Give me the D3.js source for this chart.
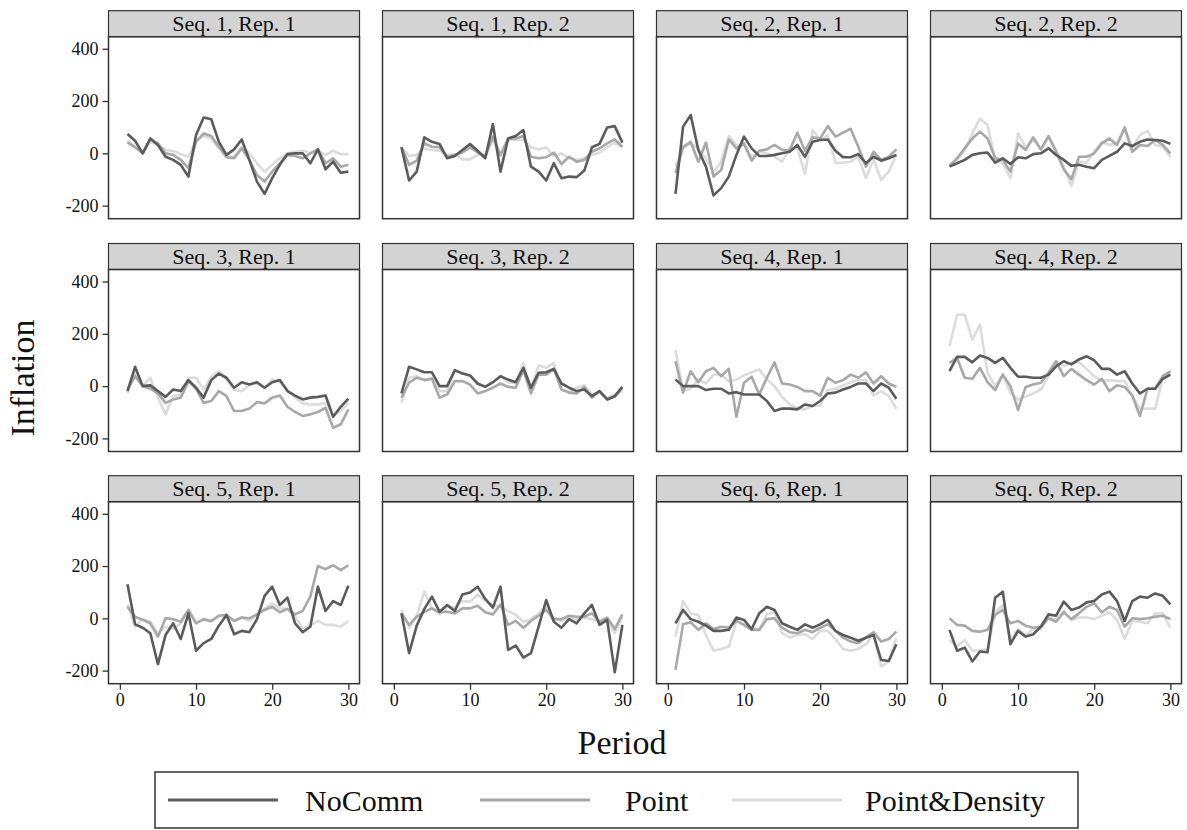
<!DOCTYPE html>
<html>
<head>
<meta charset="utf-8">
<script src="https://cdn.jsdelivr.net/npm/d3@7"></script>
<style>
  body { margin: 0; background: #fff; }
  svg { display: block; font-family: "Liberation Serif", "DejaVu Serif", serif; }
</style>
</head>
<body>
<svg width="1187" height="830"></svg>
<script>
// panel titles, row by row
const panelTitles = [
  'Seq. 1, Rep. 1', 'Seq. 1, Rep. 2', 'Seq. 2, Rep. 1', 'Seq. 2, Rep. 2',
  'Seq. 3, Rep. 1', 'Seq. 3, Rep. 2', 'Seq. 4, Rep. 1', 'Seq. 4, Rep. 2',
  'Seq. 5, Rep. 1', 'Seq. 5, Rep. 2', 'Seq. 6, Rep. 1', 'Seq. 6, Rep. 2'
]
const periods = [1,2,3,4,5,6,7,8,9,10,11,12,13,14,15,16,17,18,19,20,21,22,23,24,25,26,27,28,29,30]
const seriesNames = ['NoComm', 'Point', 'Point&Density']
const yTicks = [-200, 0, 200, 400]
const xTicks = [0, 10, 20, 30]

// inflation per panel
const noComm = [
  [74,48,0,57,32,-13,-25,-44,-89,70,137,130,44,-6,15,53,-25,-108,-155,-95,-44,-3,0,0,-38,15,-61,-32,-74,-70],
  [23,-104,-70,61,44,36,-19,-10,13,36,10,-19,112,-70,57,66,89,-51,-70,-104,-38,-95,-89,-91,-66,23,36,99,104,41],
  [-155,102,146,13,-51,-161,-133,-89,-6,64,19,-10,-10,-6,0,6,32,-13,44,51,53,10,-15,-15,-3,-38,-13,-28,-19,-6],
  [-51,-38,-25,-6,0,3,-36,-19,-41,-15,-19,-3,0,19,-6,-25,-48,-44,-51,-57,-25,-10,6,38,28,44,53,51,48,36],
  [-19,74,0,3,-19,-41,-13,-19,23,-6,-44,23,48,32,-6,15,6,15,-6,15,23,-19,-36,-51,-44,-41,-36,-117,-79,-48],
  [-28,74,64,53,53,0,0,61,48,41,10,-3,15,38,25,15,70,-6,51,53,66,10,-6,-19,-13,-38,-19,-51,-38,-3],
  [25,0,0,0,-15,-10,-10,-28,-23,-32,-32,-32,-57,-95,-86,-86,-89,-70,-76,-57,-28,-25,-13,-3,10,10,-19,10,-6,-48],
  [57,112,112,91,117,108,89,108,70,36,36,32,32,44,76,95,83,102,114,99,66,66,44,57,10,-28,-10,-10,28,44],
  [130,-23,-36,-57,-175,-64,-19,-79,19,-124,-95,-79,-28,13,-61,-48,-53,-3,86,121,51,79,-19,-53,-32,121,28,66,51,125],
  [19,-133,-28,36,83,25,51,28,91,99,121,74,41,121,-121,-104,-150,-133,-32,70,-13,-36,-3,-19,19,51,-25,-6,-206,-25],
  [-19,32,-3,-13,-28,-48,-48,-44,3,-6,-41,19,44,32,-19,-32,-44,-23,-36,-23,-6,-48,-64,-74,-86,-74,-64,-159,-163,-99],
  [-44,-124,-112,-165,-127,-130,79,102,-99,-48,-70,-61,-32,15,10,64,32,41,61,66,91,102,66,-10,66,83,79,95,86,53]
]
const point = [
  [42,23,0,53,38,0,-6,-25,-57,44,76,66,25,-15,-19,19,-25,-83,-108,-70,-38,-6,-10,-19,0,15,-38,-19,-51,-44],
  [23,-44,-28,38,25,23,-13,-6,3,23,3,-13,64,-6,57,57,66,-13,-19,-15,3,-41,-13,-32,-25,6,19,38,53,25],
  [-76,25,44,-32,41,-89,-64,53,19,38,-28,10,15,32,13,13,79,10,61,57,104,64,79,94,25,-51,6,-25,-13,15],
  [-48,-19,19,57,83,57,-19,-25,-70,38,13,61,15,66,6,-61,-99,-13,-13,0,38,57,32,99,6,32,28,51,32,0],
  [-13,38,0,-10,-28,-64,-51,-44,19,-10,-64,-57,-19,-38,-95,-95,-86,-61,-66,-44,-36,-79,-99,-114,-108,-99,-83,-159,-146,-89],
  [-44,13,32,23,28,-44,-32,19,19,6,-28,-19,-6,10,-3,-6,61,-28,44,44,66,-13,-25,-28,-3,-44,-19,-51,-41,-6],
  [95,-25,57,15,57,70,38,66,-117,13,36,-32,32,91,10,6,-3,-19,-19,-36,32,13,23,44,32,53,10,38,10,-3],
  [89,108,32,28,70,15,-15,44,0,-91,-3,6,13,51,95,38,66,44,23,6,28,-19,3,-3,-36,-114,-10,-10,38,57],
  [44,6,-6,-19,-70,0,-3,-13,32,-19,-3,-10,10,13,-10,3,0,15,32,44,23,36,15,28,83,200,188,203,184,203],
  [19,-25,6,25,38,23,25,19,38,38,48,23,15,53,-25,-10,-36,-10,10,32,-3,-3,10,6,6,19,-13,3,-41,15],
  [-197,-23,-15,-44,-19,-41,-32,-36,-10,-25,-44,-44,-3,0,-36,-53,-57,-44,-53,-36,-23,-48,-74,-89,-95,-74,-53,-89,-79,-51],
  [0,-25,-28,-48,-51,-44,13,32,-19,-10,-28,-36,-32,0,-13,23,-3,19,44,57,23,44,32,-32,0,-3,0,6,10,-3]
]
const pointDensity = [
  [51,25,3,44,32,13,9,-3,-13,51,66,57,19,-6,-13,25,0,-38,-70,-44,-19,0,6,10,0,10,-6,10,-3,-3],
  [23,-10,-6,19,13,10,-6,-3,-23,-23,-6,-3,51,-10,51,51,51,23,15,23,-10,0,-19,-25,-19,-6,3,23,41,23],
  [-51,19,38,19,-19,-74,-32,66,32,32,-13,6,0,-13,-32,19,19,-79,89,51,70,-36,-36,-32,-13,-95,-23,-102,-70,-6],
  [-44,-25,13,76,133,108,-25,-38,-95,76,23,51,15,61,13,-51,-124,-32,-36,6,44,32,38,93,19,70,86,32,25,-15],
  [-25,51,0,32,-44,-108,-38,-32,32,32,-13,36,57,25,-15,-19,3,10,-6,25,15,-13,-44,-66,-70,-70,-64,-112,-95,-64],
  [-64,32,38,23,32,-19,-19,57,53,41,6,0,13,38,15,10,89,-13,79,70,89,-13,-23,-6,3,-32,-25,-44,-32,-19],
  [137,-19,-10,25,10,44,44,19,25,41,53,64,25,0,-41,-70,-86,-89,-76,-74,-15,-10,3,15,23,23,-36,-19,-38,-86],
  [152,273,273,178,235,51,0,44,-25,-51,-41,-28,-13,38,95,76,91,91,66,38,19,23,19,19,-38,-86,-86,-86,32,57],
  [53,-32,-3,-13,-57,-32,-41,-19,32,-15,-6,-13,10,13,-10,3,-10,13,38,57,38,36,6,-38,-28,-10,-25,-25,-32,-10],
  [32,-36,10,102,38,15,44,41,66,64,91,66,51,44,28,13,-13,-3,19,41,3,-10,3,-3,3,-3,-13,0,-57,6],
  [-70,66,19,13,-64,-124,-117,-108,-10,-25,-36,-44,15,25,-57,-74,-64,-61,-79,-48,-48,-79,-117,-124,-117,-99,-61,-184,-165,-76],
  [-83,-108,-83,-124,-121,-117,23,51,-86,-41,-64,-41,-41,6,-6,28,-6,3,3,-3,10,23,-6,-79,-10,-13,-19,19,19,-36]
]

const colors = ['#5b5b5b', '#a8a8a8', '#dcdcdc']
const allSeries = [noComm, point, pointDensity]

const svg = d3.select('svg')

// panel geometry
const panelW = 251, panelH = 182
const colX = [108.5, 382.5, 656.5, 930.5]
const rowY = [36.7, 269.5, 501.7]
const stripH = 26

const x = d3.scaleLinear().domain([-1.49, 31.46]).range([0, panelW])
const y = d3.scaleLinear().domain([-250, 446]).range([panelH, 0])
const line = d3.line().x((d, i) => x(periods[i])).y(d => y(d))

panelTitles.forEach(function (title, k) {
  const col = k % 4, row = Math.floor(k / 4)
  const g = svg.append('g').attr('transform', `translate(${colX[col]},${rowY[row]})`)

  // strip header
  g.append('rect').attr('x', 0).attr('y', -stripH).attr('width', panelW).attr('height', stripH)
    .attr('fill', '#d3d3d3').attr('stroke', '#333').attr('stroke-width', 1.2)
  g.append('text').attr('x', panelW / 2).attr('y', -6).attr('text-anchor', 'middle')
    .attr('font-size', 22).attr('fill', '#111').text(title)

  // lines: light ones under dark
  for (let s = 2; s >= 0; s--) {
    g.append('path').datum(allSeries[s][k]).attr('d', line)
      .attr('fill', 'none').attr('stroke', colors[s]).attr('stroke-width', 2.6)
      .attr('stroke-linejoin', 'round')
  }

  g.append('rect').attr('width', panelW).attr('height', panelH)
    .attr('fill', 'none').attr('stroke', '#333').attr('stroke-width', 1.5)

  if (col === 0) {
    const ya = g.append('g').call(d3.axisLeft(y).tickValues(yTicks).tickSize(6).tickPadding(4).tickFormat(d => String(d)))
    ya.select('.domain').remove()
    ya.selectAll('line').attr('stroke', '#333').attr('stroke-width', 1.3)
    ya.selectAll('text').attr('font-size', 18).attr('font-family', 'Liberation Serif').attr('fill', '#111')
  }
  if (row === 2) {
    const xa = g.append('g').attr('transform', `translate(0,${panelH})`)
      .call(d3.axisBottom(x).tickValues(xTicks).tickSize(6).tickPadding(4))
    xa.select('.domain').remove()
    xa.selectAll('line').attr('stroke', '#333').attr('stroke-width', 1.3)
    xa.selectAll('text').attr('font-size', 18).attr('font-family', 'Liberation Serif').attr('fill', '#111')
  }
})

// axis titles
svg.append('text').attr('transform', 'translate(34,378) rotate(-90)').attr('text-anchor', 'middle')
  .attr('font-size', 34).attr('fill', '#111').text('Inflation')
svg.append('text').attr('x', 622).attr('y', 754).attr('text-anchor', 'middle')
  .attr('font-size', 34).attr('fill', '#111').text('Period')

// legend
svg.append('rect').attr('x', 155).attr('y', 772).attr('width', 923).attr('height', 56)
  .attr('fill', '#fff').attr('stroke', '#333').attr('stroke-width', 1.5)
const legLineX = [168, 480, 732]
const legTextX = [305, 625, 865]
seriesNames.forEach(function (name, i) {
  svg.append('line').attr('x1', legLineX[i]).attr('x2', legLineX[i] + 110).attr('y1', 800).attr('y2', 800)
    .attr('stroke', colors[i]).attr('stroke-width', 3)
  svg.append('text').attr('x', legTextX[i]).attr('y', 811).attr('font-size', 30)
    .attr('fill', '#111').text(name)
})
</script>
</body>
</html>
